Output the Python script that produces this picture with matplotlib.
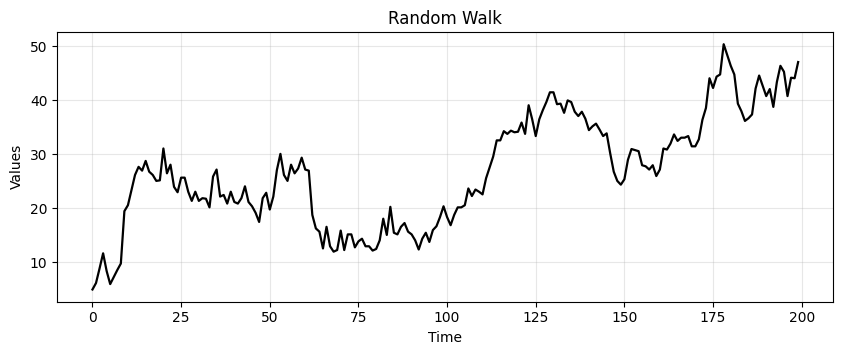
import matplotlib
matplotlib.use('Agg')
import matplotlib.pyplot as plt

time = list(range(200))
values = [
    5.0, 6.2, 8.9, 11.7, 8.4, 6.0, 7.3, 8.6, 9.8, 19.5,
    20.6, 23.4, 26.2, 27.7, 27.0, 28.8, 26.8, 26.2, 25.1, 25.2,
    31.1, 26.5, 28.1, 24.0, 23.0, 25.7, 25.7, 23.1, 21.4, 23.1,
    21.4, 21.9, 21.8, 20.2, 25.9, 27.2, 22.2, 22.5, 20.9, 23.1,
    21.2, 20.9, 21.9, 24.1, 21.2, 20.4, 19.2, 17.5, 21.9, 22.9,
    19.8, 22.2, 27.1, 30.1, 26.2, 25.1, 28.1, 26.5, 27.4, 29.4,
    27.2, 27.0, 18.8, 16.3, 15.7, 12.6, 16.6, 13.0, 12.0, 12.3,
    15.9, 12.3, 15.2, 15.2, 12.8, 13.9, 14.4, 13.0, 13.0, 12.2,
    12.5, 14.1, 18.1, 15.1, 20.3, 15.5, 15.2, 16.6, 17.3, 15.7,
    15.2, 14.1, 12.4, 14.4, 15.5, 13.8, 16.0, 16.7, 18.4, 20.4,
    18.4, 16.9, 18.8, 20.2, 20.2, 20.6, 23.7, 22.3, 23.5, 23.1,
    22.6, 25.6, 27.6, 29.6, 32.6, 32.6, 34.3, 33.8, 34.4, 34.1,
    34.2, 35.9, 33.8, 39.1, 36.5, 33.4, 36.5, 38.2, 39.7, 41.5,
    41.5, 39.3, 39.4, 37.7, 40.0, 39.7, 37.9, 37.1, 37.9, 36.6,
    34.5, 35.2, 35.7, 34.6, 33.4, 33.9, 30.2, 26.8, 25.1, 24.4,
    25.4, 29.0, 31.0, 30.8, 30.6, 28.0, 27.8, 27.2, 28.0, 26.0,
    27.2, 31.1, 30.9, 32.0, 33.7, 32.5, 33.1, 33.1, 33.4, 31.5,
    31.5, 32.8, 36.4, 38.6, 44.1, 42.3, 44.4, 44.8, 50.4, 48.4,
    46.4, 44.8, 39.4, 38.0, 36.2, 36.7, 37.4, 42.2, 44.6, 42.7,
    40.8, 42.1, 38.8, 43.4, 46.4, 45.3, 40.8, 44.2, 44.1, 47.1,
]

fig = plt.figure(figsize=(8.41, 3.55), dpi=100)
ax = fig.add_axes([0.068, 0.150, 0.923, 0.760])
ax.plot(time, values, color='black', linewidth=1.6)
ax.set_title('Random Walk')
ax.set_xlabel('Time')
ax.set_ylabel('Values')
ax.grid(True, alpha=0.3)

fig.savefig('out.png', dpi=100)
